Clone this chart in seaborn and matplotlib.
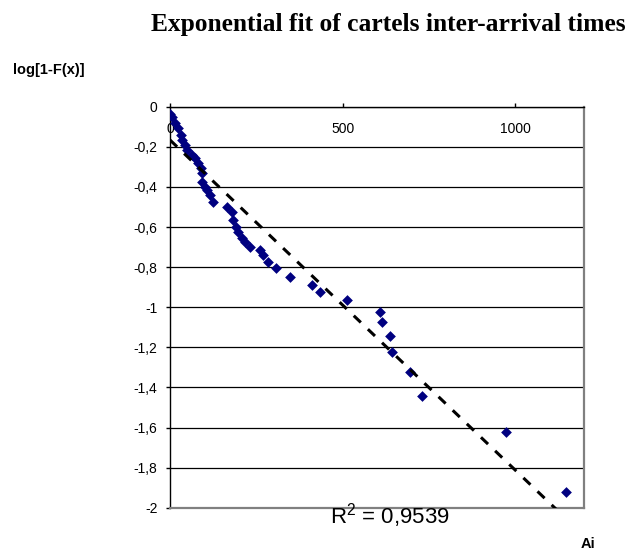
import matplotlib
matplotlib.use("Agg")
import matplotlib.pyplot as plt
import seaborn as sns
import pandas as pd

# ---- data ----
ai_values = [0, 6.7, 14.5, 24.0, 31.0, 35.6, 43.4, 50.1, 62.8, 72.4, 81.0, 88.8,
             93.5, 91.7, 101.3, 107.9, 115.8, 125.3, 164.1, 178.6, 183.2, 191.0,
             197.7, 207.5, 217.1, 231.6, 260.5, 270.0, 284.4, 308.1, 348.6, 410.7,
             435.3, 513.6, 609.3, 613.9, 638.3, 642.9, 694.2, 729.5, 972.5, 1145.9]
log_surv = [-0.036, -0.053, -0.083, -0.108, -0.141, -0.166, -0.191, -0.216, -0.241,
            -0.256, -0.281, -0.306, -0.331, -0.374, -0.399, -0.415, -0.440, -0.474,
            -0.499, -0.524, -0.565, -0.599, -0.623, -0.656, -0.673, -0.698, -0.715,
            -0.740, -0.775, -0.806, -0.847, -0.887, -0.923, -0.964, -1.024, -1.074,
            -1.145, -1.225, -1.323, -1.443, -1.623, -1.922]
# linear trend line (endpoints)
trend_x = [0, 1146]
trend_y = [-0.166, -2.053]
x_ticks = [0, 500, 1000]
x_tick_labels = ["0", "500", "1000"]
y_ticks = [0, -0.2, -0.4, -0.6, -0.8, -1, -1.2, -1.4, -1.6, -1.8, -2]
y_tick_labels = ["0", "-0,2", "-0,4", "-0,6", "-0,8", "-1", "-1,2", "-1,4", "-1,6", "-1,8", "-2"]
title_text = "Exponential fit of cartels inter-arrival times"
y_label = "log[1-F(x)]"
x_label = "Ai"
r2_text = r"R$^{2}$ = 0,9539"

df = pd.DataFrame({"Ai": ai_values, "logS": log_surv})
trend_df = pd.DataFrame({"Ai": trend_x, "logS": trend_y})

sns.set_style("white")
plt.rcParams["font.family"] = ["Liberation Sans", "DejaVu Sans"]
plt.rcParams["mathtext.default"] = "regular"
for key in ["text.color", "axes.labelcolor", "xtick.color", "ytick.color"]:
    plt.rcParams[key] = "black"

fig = plt.figure(figsize=(6.29, 5.55), dpi=100)
fig.patch.set_facecolor("white")
ax = fig.add_axes([0.2703, 0.0852, 0.6587, 0.7225])

sns.scatterplot(data=df, x="Ai", y="logS", marker="D", s=30, color="#000080",
                linewidth=0, alpha=1, zorder=3, ax=ax)
sns.lineplot(data=trend_df, x="Ai", y="logS", color="black", lw=2.2,
             linestyle=(0, (3.2, 3.2)), zorder=4, ax=ax)

ax.set_xlim(0, 1200)
ax.set_ylim(-2, 0)
ax.set_yticks(y_ticks)
ax.set_yticklabels(y_tick_labels)
ax.set_xticks(x_ticks)
ax.set_xticklabels(x_tick_labels)
ax.xaxis.tick_top()
ax.tick_params(axis="x", direction="out", length=3, width=1, color="black",
               labelsize=10, pad=-24, top=True, bottom=False)
ax.tick_params(axis="y", direction="out", length=3, width=1, color="black",
               labelsize=10, pad=6, left=True)

ax.yaxis.grid(True, color="black", lw=0.9)
ax.xaxis.grid(False)
ax.set_axisbelow(True)

for side in ["top", "left"]:
    ax.spines[side].set_color("black")
    ax.spines[side].set_linewidth(1.0)
for side in ["right", "bottom"]:
    ax.spines[side].set_color("#808080")
    ax.spines[side].set_linewidth(1.6)

ax.set_ylabel(y_label, rotation=0, fontsize=10.5, fontweight="bold", ha="left", va="center")
ax.yaxis.set_label_coords(-0.379, 1.0915)
ax.set_xlabel(x_label, fontsize=10.5, fontweight="bold", ha="center", va="center")
ax.xaxis.set_label_coords(1.009, -0.0905)

fig.text(626 / 629, 1 - 30.7 / 555, title_text, ha="right", va="baseline",
         family=["Liberation Serif", "DejaVu Serif"], fontweight="bold", fontsize=18.4)

ax.text((390 - 170) / 414.3, (507.7 - 516) / 401, r2_text, transform=ax.transAxes,
        ha="center", va="center", fontsize=16, clip_on=False)

fig.savefig("out.png", dpi=100, facecolor="white")
